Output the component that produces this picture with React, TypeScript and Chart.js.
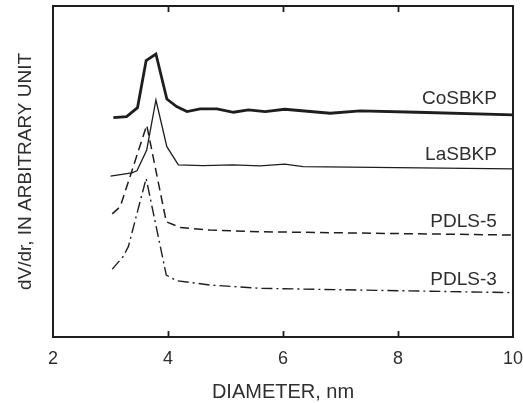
import React, { useEffect, useRef } from "react";
import { Chart, registerables } from "chart.js";

Chart.register(...registerables);

// Diameter (nm) and dV/dr (arbitrary units)
const coX = [3.05, 3.28, 3.47, 3.62, 3.79, 3.98, 4.15, 4.33, 4.56, 4.85, 5.14, 5.4, 5.69, 6.03, 6.82, 7.34, 8.33, 10];
const coY = [6.63, 6.66, 6.93, 8.35, 8.55, 7.19, 6.96, 6.81, 6.89, 6.89, 6.79, 6.86, 6.81, 6.88, 6.76, 6.83, 6.79, 6.71];

const laX = [3.0, 3.37, 3.46, 3.63, 3.79, 3.98, 4.18, 4.61, 5.13, 5.6, 6.03, 6.35, 10];
const laY = [4.86, 4.96, 5.02, 5.65, 7.16, 5.75, 5.2, 5.18, 5.2, 5.17, 5.22, 5.15, 5.08];

const p5X = [3.03, 3.17, 3.63, 3.97, 4.21, 4.73, 5.6, 10];
const p5Y = [3.72, 3.94, 6.4, 3.48, 3.31, 3.23, 3.18, 3.08];

const p3X = [3.03, 3.22, 3.31, 3.62, 3.97, 4.15, 4.73, 5.6, 10];
const p3Y = [2.05, 2.43, 2.73, 4.79, 1.87, 1.7, 1.57, 1.47, 1.34];

const seriesNames = ["CoSBKP", "LaSBKP", "PDLS-5", "PDLS-3"];
const labelX = 9.72;
const labelY = [7.19, 5.52, 3.48, 1.74];

const xTicks = [2, 4, 6, 8, 10];
const xTitle = "DIAMETER, nm";
const yTitle = "dV/dr, IN ARBITRARY UNIT";

const FONT = '"Liberation Sans", Arial, Helvetica, sans-serif';
const INK = "#1e1e1e";
const TEXT = "#2e2e2e";

function pts(xs: number[], ys: number[]) {
  return xs.map((x, i) => ({ x, y: ys[i] }));
}

const framePlugin = {
  id: "frame",
  afterDatasetsDraw(chart: any) {
    const { ctx, chartArea: a, scales } = chart;
    const xs = scales.x;
    const ys = scales.y;
    ctx.save();
    ctx.strokeStyle = INK;
    ctx.lineWidth = 2;
    ctx.strokeRect(a.left, a.top, a.right - a.left, a.bottom - a.top);
    ctx.lineWidth = 1.8;
    xTicks.forEach((t) => {
      if (t === xTicks[0] || t === xTicks[xTicks.length - 1]) return;
      const px = Math.round(xs.getPixelForValue(t)) + 0.5;
      ctx.beginPath();
      ctx.moveTo(px, a.bottom);
      ctx.lineTo(px, a.bottom - 6);
      ctx.moveTo(px, a.top);
      ctx.lineTo(px, a.top + 6);
      ctx.stroke();
    });
    ctx.font = `19px ${FONT}`;
    ctx.fillStyle = TEXT;
    ctx.textAlign = "right";
    ctx.textBaseline = "middle";
    seriesNames.forEach((s, i) => {
      ctx.fillText(s, xs.getPixelForValue(labelX), ys.getPixelForValue(labelY[i]));
    });
    ctx.restore();
  },
};

export default function App() {
  const ref = useRef<HTMLCanvasElement | null>(null);
  useEffect(() => {
    if (!ref.current) return;
    const chart = new Chart(ref.current, {
      type: "line",
      data: {
        datasets: [
          { label: seriesNames[0], data: pts(coX, coY), borderColor: INK, borderWidth: 2.8, pointRadius: 0, tension: 0, fill: false },
          { label: seriesNames[1], data: pts(laX, laY), borderColor: INK, borderWidth: 1.3, pointRadius: 0, tension: 0, fill: false },
          { label: seriesNames[2], data: pts(p5X, p5Y), borderColor: INK, borderWidth: 1.5, borderDash: [9, 5], pointRadius: 0, tension: 0, fill: false },
          { label: seriesNames[3], data: pts(p3X, p3Y), borderColor: INK, borderWidth: 1.4, borderDash: [11, 4, 2, 4], pointRadius: 0, tension: 0, fill: false },
        ],
      },
      options: {
        responsive: false,
        animation: false,
        devicePixelRatio: 1,
        layout: { padding: { top: 6, right: 10, bottom: 0, left: 0 } },
        plugins: { legend: { display: false }, tooltip: { enabled: false } },
        scales: {
          x: {
            type: "linear",
            min: 2,
            max: 10,
            afterBuildTicks: (s: any) => {
              s.ticks = xTicks.map((v) => ({ value: v }));
            },
            afterFit: (s: any) => {
              s.height = 66;
              s.paddingLeft = 0;
              s.paddingRight = 0;
            },
            grid: { display: false, drawTicks: false },
            border: { display: false },
            ticks: { font: { size: 18, family: FONT }, color: TEXT, padding: 11, maxRotation: 0 },
            title: { display: true, text: xTitle, font: { size: 20, family: FONT, lineHeight: 1.05 }, color: TEXT, padding: 0 },
          },
          y: {
            type: "linear",
            min: 0,
            max: 10,
            afterFit: (s: any) => {
              s.width = 53;
            },
            grid: { display: false, drawTicks: false },
            border: { display: false },
            ticks: { display: false },
            title: { display: true, text: yTitle, font: { size: 19, family: FONT }, color: TEXT, padding: { top: 14, bottom: 0 } },
          },
        },
      },
      plugins: [framePlugin],
    } as any);
    return () => chart.destroy();
  }, []);
  return (
    <div style={{ position: "fixed", left: 0, top: 0, background: "#fff" }}>
      <canvas ref={ref} width={523} height={403} />
    </div>
  );
}
